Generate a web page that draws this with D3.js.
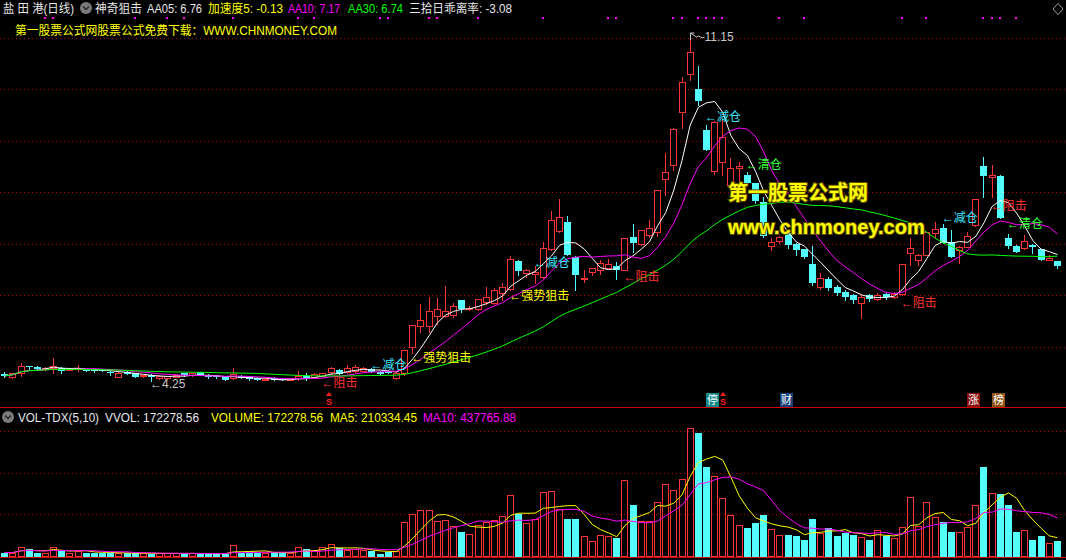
<!DOCTYPE html>
<html><head><meta charset="utf-8">
<script src="https://cdn.jsdelivr.net/npm/d3@7/dist/d3.min.js"></script>
<style>
html,body{margin:0;padding:0;background:#000;}
svg{display:block;}
text{font-family:"Liberation Sans","Noto Sans CJK SC",sans-serif;}
</style></head><body>
<svg id="c" width="1066" height="560"></svg>
<script>
const opens=[4.39,4.32,4.40,4.55,4.53,4.48,4.50,4.50,4.47,4.48,4.46,4.48,4.47,4.43,4.33,4.43,4.40,4.34,4.37,4.30,
4.30,4.33,4.40,4.36,4.42,4.37,4.35,4.34,4.30,4.35,4.34,4.31,4.26,4.31,4.28,4.27,4.30,4.35,4.32,4.35,
4.43,4.47,4.43,4.45,4.45,4.48,4.43,4.45,4.30,4.41,4.93,5.35,5.35,5.53,5.54,5.56,5.85,5.67,5.67,5.82,
5.80,5.99,6.07,6.62,6.39,6.37,6.31,6.86,7.23,7.40,6.71,6.27,6.42,6.46,6.50,6.53,6.46,7.10,6.97,7.14,
7.20,8.26,8.53,9.58,10.33,10.03,9.23,8.41,8.60,8.14,8.47,8.33,8.17,7.80,6.93,7.03,7.18,6.97,6.86,6.57,
6.12,6.28,6.12,6.02,5.95,5.80,5.95,5.88,5.98,5.92,5.98,6.79,6.65,6.75,7.19,7.28,7.01,6.85,6.91,7.34,
8.52,8.30,8.32,7.09,6.93,6.88,6.95,6.86,6.65,6.62];
const highs=[4.43,4.41,4.61,4.55,4.54,4.52,4.71,4.52,4.50,4.57,4.47,4.49,4.48,4.45,4.42,4.44,4.41,4.37,4.38,4.36,
4.35,4.37,4.41,4.41,4.43,4.38,4.36,4.35,4.51,4.36,4.35,4.32,4.30,4.32,4.29,4.31,4.45,4.41,4.40,4.41,
4.53,4.48,4.57,4.57,4.53,4.50,4.44,4.46,4.43,4.87,5.36,5.78,5.92,5.89,6.13,5.79,5.86,5.74,5.88,6.12,
6.09,6.20,6.72,6.64,6.47,6.54,7.01,7.63,7.86,7.52,6.72,6.45,6.50,6.64,6.66,6.60,7.08,7.36,7.24,7.44,
8.04,8.77,9.26,10.28,11.15,10.50,9.33,9.40,9.43,8.67,8.60,8.39,8.17,7.90,7.08,7.12,7.22,6.99,6.87,6.93,
6.40,6.32,6.15,6.05,5.98,5.96,5.98,6.00,6.00,6.02,6.57,7.09,6.76,7.20,7.41,7.36,7.24,6.92,7.21,7.86,
8.69,8.53,8.33,7.16,6.94,7.15,6.96,6.87,6.75,6.63];
const lows=[4.33,4.31,4.34,4.49,4.48,4.47,4.41,4.41,4.46,4.45,4.44,4.43,4.44,4.37,4.32,4.38,4.32,4.33,4.25,4.29,
4.29,4.32,4.35,4.35,4.36,4.31,4.31,4.26,4.28,4.30,4.27,4.26,4.26,4.26,4.26,4.26,4.27,4.27,4.31,4.34,
4.39,4.38,4.40,4.43,4.44,4.42,4.38,4.40,4.29,4.37,4.80,5.23,5.23,5.39,5.52,5.52,5.61,5.66,5.66,5.78,
5.78,5.85,6.05,6.35,6.32,6.19,6.30,6.85,7.20,6.74,6.05,6.21,6.36,6.38,6.49,6.27,6.45,6.81,6.94,7.10,
7.12,7.94,8.43,9.26,10.22,9.72,8.83,8.35,8.33,8.14,8.17,8.15,7.78,7.10,6.85,6.98,6.88,6.75,6.68,6.15,
6.08,6.05,5.95,5.85,5.80,5.50,5.84,5.85,5.88,5.90,5.95,6.55,6.55,6.74,7.11,6.98,6.70,6.58,6.90,7.33,
7.90,7.90,7.48,6.88,6.80,6.87,6.78,6.64,6.64,6.49];
const closes=[4.35,4.40,4.55,4.52,4.49,4.51,4.55,4.45,4.49,4.51,4.45,4.44,4.45,4.42,4.41,4.39,4.33,4.36,4.32,4.35,
4.34,4.36,4.36,4.40,4.37,4.32,4.33,4.27,4.39,4.31,4.28,4.27,4.29,4.26,4.26,4.30,4.35,4.30,4.39,4.40,
4.50,4.39,4.50,4.52,4.50,4.43,4.39,4.41,4.41,4.87,5.36,5.46,5.64,5.67,5.64,5.74,5.67,5.70,5.88,5.92,
6.05,6.12,6.67,6.44,6.46,6.42,6.88,7.44,7.51,6.75,6.35,6.30,6.50,6.58,6.56,6.45,7.08,6.99,7.24,7.28,
8.04,8.39,9.24,10.17,10.78,9.80,8.83,9.38,9.08,8.47,8.52,8.17,7.81,7.12,7.01,7.11,6.95,6.85,6.70,6.20,
6.30,6.10,6.00,5.92,5.85,5.92,5.88,5.96,5.92,5.98,6.57,6.89,6.75,7.20,7.26,6.99,6.71,6.91,7.13,7.86,
8.32,8.34,7.49,6.93,6.81,7.03,6.90,6.65,6.68,6.53];
const volumes=[40000,40000,98000,86000,40000,40000,109000,55000,40000,60000,40000,40000,35000,30000,40000,30000,30000,30000,27000,30000,
30000,30000,27000,30000,27000,27000,20000,27000,132000,40000,40000,40000,40000,44000,35000,35000,98000,75000,67000,98000,
140000,90000,67000,75000,67000,55000,27000,44000,55000,393000,489000,535000,535000,408000,420000,347000,282000,255000,362000,389000,
420000,466000,707000,485000,382000,430000,742000,753000,543000,431000,431000,236000,178000,247000,236000,213000,876000,592000,408000,408000,
627000,834000,765000,891000,1474000,1420000,1029000,926000,673000,477000,362000,320000,377000,477000,316000,247000,247000,228000,190000,431000,
267000,328000,228000,267000,247000,220000,190000,305000,228000,209000,336000,681000,351000,623000,451000,397000,282000,278000,336000,589000,
1020000,720000,715000,590000,282000,300000,190000,236000,153440,172278.56];

const signalDots=[5,6,16,20,22,28,36,38,46,47,52,53,58,66,74,75,82,83,85,86,87,88,95,98,110,113,120,121,122,124];
const annotations=[
 {i:45,p:4.567,t:"←减仓",k:"#3ce6ff"},
 {i:50,p:4.71,t:"←强势狙击",k:"#ffff00"},
 {i:39,p:4.21,t:"←阻击",k:"#ff3232"},
 {i:65,p:6.59,t:"←减仓",k:"#3ce6ff"},
 {i:62,p:5.935,t:"←强势狙击",k:"#ffff00"},
 {i:76,p:6.31,t:"←阻击",k:"#ff3232"},
 {i:86,p:9.485,t:"←减仓",k:"#3ce6ff"},
 {i:91,p:8.53,t:"←清仓",k:"#33ff33"},
 {i:110,p:5.80,t:"←阻击",k:"#ff3232"},
 {i:115,p:7.48,t:"←减仓",k:"#3ce6ff"},
 {i:121,p:7.72,t:"←阻击",k:"#ff3232"},
 {i:123,p:7.36,t:"←清仓",k:"#33ff33"}
];
const tags=[{i:87,t:"停",k:"#128a8a"},{i:96,t:"财",k:"#173f7a"},{i:119,t:"涨",k:"#8a1010"},{i:122,t:"榜",k:"#8f5218"}];
const sMarks=[40,88];
const headerItems=[
 {t:"盐 田 港(日线)",k:"#e6e6e6"},{t:"神奇狙击",k:"#e6e6e6"},{t:"AA05: 6.76",k:"#e6e6e6"},
 {t:"加速度5: -0.13",k:"#ffff00"},{t:"AA10: 7.17",k:"#ff00ff"},{t:"AA30: 6.74",k:"#00ff00"},
 {t:"三拾日乖离率: -3.08",k:"#e6e6e6"}];
const volHeader=[{t:"VOL-TDX(5,10)",k:"#e6e6e6"},{t:"VVOL: 172278.56",k:"#e6e6e6"},
 {t:"VOLUME: 172278.56",k:"#ffff00"},{t:"MA5: 210334.45",k:"#ffff00"},{t:"MA10: 437765.88",k:"#ff00ff"}];

const N=closes.length;
const UP="#ff3232", DN="#54ffff";
const svg=d3.select("#c");
svg.append("rect").attr("width",1066).attr("height",560).attr("fill","#000");

const x=d3.scaleBand().domain(d3.range(N)).range([0.12,1061]);
const cx=i=>x(i)+x.bandwidth()/2;
const y=d3.scaleLinear().domain([4.25,11.15]).range([381,33]);
const vy=d3.scaleLinear().domain([0,1480000]).range([556,427.5]);

// grids
const g=svg.append("g");
d3.range(7).forEach(k=>{const yy=Math.round(38+k*51.42)+0.5;
 g.append("line").attr("x1",0).attr("x2",1066).attr("y1",yy).attr("y2",yy)
  .attr("stroke","#b00000").attr("stroke-dasharray","1,3");});
d3.range(3).forEach(k=>{const yy=Math.round(431+k*41.6)+0.5;
 g.append("line").attr("x1",0).attr("x2",1066).attr("y1",yy).attr("y2",yy)
  .attr("stroke","#b00000").attr("stroke-dasharray","1,3");});
g.append("line").attr("x1",0).attr("x2",1066).attr("y1",407.5).attr("y2",407.5).attr("stroke","#d00000");
g.append("line").attr("x1",0).attr("x2",1066).attr("y1",557.5).attr("y2",557.5).attr("stroke","#d00000");

function ma(arr,n){return arr.map((v,i)=>{const s=arr.slice(Math.max(0,i-n+1),i+1);return d3.mean(s);});}

// candles
const cg=svg.append("g").attr("shape-rendering","crispEdges");
for(let i=0;i<N;i++){
 const o=opens[i],c=closes[i],h=highs[i],l=lows[i];
 const up=c>=o, col=up?UP:DN;
 const px=Math.round(cx(i)), left=px-3;
 const yt=Math.round(y(Math.max(o,c))), yb=Math.round(y(Math.min(o,c)));
 const yh=Math.round(y(h)), yl=Math.round(y(l));
 if(up){
  if(yh<yt) cg.append("line").attr("x1",px+0.5).attr("x2",px+0.5).attr("y1",yh).attr("y2",yt).attr("stroke",col);
  if(yl>yb) cg.append("line").attr("x1",px+0.5).attr("x2",px+0.5).attr("y1",yb).attr("y2",yl+1).attr("stroke",col);
  if(yb-yt>=2) cg.append("rect").attr("x",left+0.5).attr("y",yt+0.5).attr("width",6).attr("height",yb-yt).attr("fill","#000").attr("stroke",col);
  else cg.append("rect").attr("x",left).attr("y",yt).attr("width",7).attr("height",Math.max(1,yb-yt+1)).attr("fill",col);
 } else {
  cg.append("line").attr("x1",px+0.5).attr("x2",px+0.5).attr("y1",yh).attr("y2",yl+1).attr("stroke",col);
  cg.append("rect").attr("x",left).attr("y",yt).attr("width",7).attr("height",Math.max(1,yb-yt)).attr("fill",col);
 }
}

// MA lines
const lineP=d3.line().x((d,i)=>cx(i)+0.5).y(d=>y(d));
[[5,"#ffffff"],[10,"#ff00ff"],[30,"#00ff00"]].forEach(([n,col])=>{
 svg.append("path").attr("d",lineP(ma(closes,n))).attr("fill","none").attr("stroke",col).attr("stroke-width",1);
});

// volume bars
const vg=svg.append("g").attr("shape-rendering","crispEdges");
for(let i=0;i<N;i++){
 const up=closes[i]>=opens[i], col=up?UP:DN;
 const px=Math.round(cx(i)), left=px-3;
 const yt=Math.round(vy(volumes[i])), yb=556;
 if(up) vg.append("rect").attr("x",left+0.5).attr("y",yt+0.5).attr("width",6).attr("height",Math.max(1,yb-yt)).attr("fill","none").attr("stroke",col);
 else vg.append("rect").attr("x",left).attr("y",yt).attr("width",7).attr("height",yb-yt+1).attr("fill",col);
}
const vline=d3.line().x((d,i)=>cx(i)+0.5).y(d=>vy(d));
svg.append("path").attr("d",vline(ma(volumes,5))).attr("fill","none").attr("stroke","#ffff00");
svg.append("path").attr("d",vline(ma(volumes,10))).attr("fill","none").attr("stroke","#ff00ff");

// signal dots
svg.append("g").selectAll("rect").data(signalDots).join("rect")
 .attr("x",d=>Math.round(cx(d))-1).attr("y",17).attr("width",2).attr("height",2).attr("fill","#ff00ff");

// header
function circleIcon(cxp,cyp){
 svg.append("circle").attr("cx",cxp).attr("cy",cyp).attr("r",6).attr("fill","#7a7a7a");
 svg.append("path").attr("d",`M${cxp-3},${cyp-1.5} L${cxp},${cyp+1.5} L${cxp+3},${cyp-1.5}`).attr("fill","none").attr("stroke","#2a2a2a").attr("stroke-width",1.5);
}
const hx=[3,95,147,208,288,348,409], hw=[71,47,55,75,52,55,103];
headerItems.forEach((d,k)=>svg.append("text").attr("x",hx[k]).attr("y",13).attr("font-size",12)
 .attr("textLength",hw[k]).attr("lengthAdjust","spacingAndGlyphs").attr("fill",d.k).text(d.t));
circleIcon(86,8);
svg.append("text").attr("x",15).attr("y",35).attr("font-size",12).attr("textLength",322).attr("lengthAdjust","spacingAndGlyphs")
 .attr("fill","#ffff00").text("第一股票公式网股票公式免费下载：WWW.CHNMONEY.COM");
svg.append("path").attr("d","M1058,3.5 L1063,9 L1058,14.5 L1053,9 Z").attr("fill","none").attr("stroke","#9a9a9a");

// volume header
circleIcon(8,417);
const vhx=[18,105,211,330,423], vhw=[81,94,112,87,93];
volHeader.forEach((d,k)=>svg.append("text").attr("x",vhx[k]).attr("y",422).attr("font-size",12)
 .attr("textLength",vhw[k]).attr("lengthAdjust","spacingAndGlyphs").attr("fill",d.k).text(d.t));

// high / low labels
const iHi=d3.maxIndex(highs), iLo=d3.minIndex(lows);
const hx0=Math.round(cx(iHi))+0.5, hy0=Math.round(y(highs[iHi]));
svg.append("path").attr("d",`M${hx0},${hy0} v7 M${hx0},${hy0} h4 M${hx0},${hy0} l6,4 q2,-2 4,0 q2,2 4,0`).attr("fill","none").attr("stroke","#c8c8c8");
svg.append("text").attr("x",hx0+14).attr("y",hy0+4).attr("dominant-baseline","central").attr("font-size",12).attr("fill","#c8c8c8").text(highs[iHi].toFixed(2));
svg.append("text").attr("x",cx(iLo)-1).attr("y",y(lows[iLo])+3).attr("dominant-baseline","central").attr("font-size",12).attr("fill","#c8c8c8").text("←"+lows[iLo].toFixed(2));

// annotations
svg.append("g").selectAll("text").data(annotations).join("text")
 .attr("x",d=>cx(d.i)-1).attr("y",d=>y(d.p)).attr("dominant-baseline","central")
 .attr("font-size",12).attr("fill",d=>d.k).text(d=>d.t);

// watermark
svg.append("text").attr("x",728).attr("y",200).attr("font-size",20).attr("font-weight","bold")
 .attr("fill","#ffff00").attr("stroke","#5c4a00").attr("stroke-width",2).attr("paint-order","stroke").text("第一股票公式网");
svg.append("text").attr("x",728).attr("y",234).attr("font-size",20).attr("font-weight","bold")
 .attr("fill","#ffff00").attr("stroke","#5c4a00").attr("stroke-width",2).attr("paint-order","stroke").text("www.chnmoney.com");

// tags
tags.forEach(d=>{const px=Math.round(cx(d.i));
 svg.append("rect").attr("x",px-8).attr("y",393).attr("width",13).attr("height",14).attr("fill",d.k);
 svg.append("text").attr("x",px-1.5).attr("y",400).attr("text-anchor","middle").attr("dominant-baseline","central")
  .attr("font-size",11).attr("fill","#ffffff").text(d.t);});
sMarks.forEach(i=>{const px=Math.round(cx(i))+(i<60?-2:1);
 svg.append("path").attr("d",`M${px-3},${396} L${px},${392} L${px+3},${396} Z`).attr("fill","#ff2020");
 svg.append("text").attr("x",px).attr("y",402).attr("text-anchor","middle").attr("dominant-baseline","central")
  .attr("font-size",9).attr("font-weight","bold").attr("fill","#ff2020").text("S");});
</script>
</body></html>
